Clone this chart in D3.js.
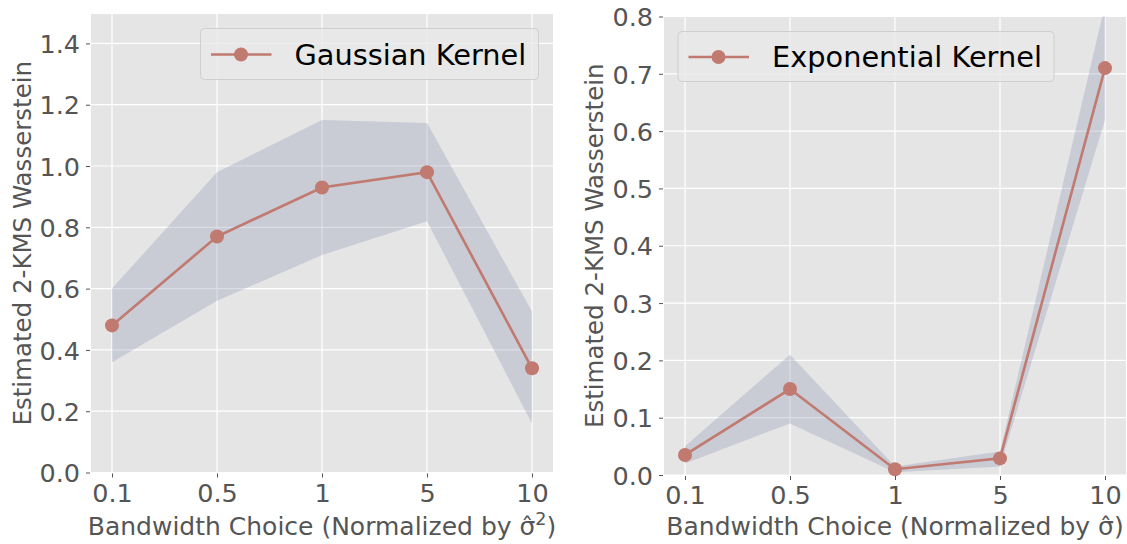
<!DOCTYPE html>
<html>
<head>
<meta charset="utf-8">
<script src="https://cdn.jsdelivr.net/npm/d3@7"></script>
<style>
  html, body { margin: 0; padding: 0; background: #ffffff; }
  svg { display: block; font-family: "DejaVu Sans", sans-serif; }
</style>
</head>
<body>
<svg id="chart" width="1127" height="544"></svg>
<script>
// ---- data ----
const categories = ["0.1", "0.5", "1", "5", "10"];

const gaussianMean  = [0.48, 0.77, 0.93, 0.98, 0.34];
const gaussianLower = [0.36, 0.56, 0.71, 0.82, 0.16];
const gaussianUpper = [0.60, 0.98, 1.15, 1.14, 0.525];

const expMean  = [0.035, 0.15, 0.010, 0.029, 0.71];
const expLower = [0.020, 0.09, 0.005, 0.015, 0.62];
const expUpper = [0.050, 0.21, 0.015, 0.041, 0.82];

const gaussianYTicks = [0.0, 0.2, 0.4, 0.6, 0.8, 1.0, 1.2, 1.4];
const expYTicks = [0.0, 0.1, 0.2, 0.3, 0.4, 0.5, 0.6, 0.7, 0.8];

const yLabel = "Estimated 2-KMS Wasserstein";

// ---- drawing ----
const svg = d3.select("#chart");
const BG = "#E5E5E5";
const LINE = "#C07A70";
const BAND = "#888EB0";
const TXT = "#555555";

function panel(opts) {
  const { left, right, top, bottom, ymax, yTicks, mean, lower, upper,
          legendText, legendBox, xLabelSup, clipId } = opts;

  const x = d3.scaleLinear().domain([-0.2, categories.length - 1 + 0.2]).range([left, right]);
  const y = d3.scaleLinear().domain([0, ymax]).range([bottom, top]);

  const g = svg.append("g");

  g.append("rect").attr("x", left).attr("y", top)
    .attr("width", right - left).attr("height", bottom - top).attr("fill", BG);

  // grid
  g.append("g").selectAll("line.h").data(yTicks).join("line")
    .attr("x1", left).attr("x2", right)
    .attr("y1", d => y(d)).attr("y2", d => y(d))
    .attr("stroke", "#ffffff").attr("stroke-width", 1.2);
  g.append("g").selectAll("line.v").data(categories.map((c, i) => i)).join("line")
    .attr("y1", top).attr("y2", bottom)
    .attr("x1", d => x(d)).attr("x2", d => x(d))
    .attr("stroke", "#ffffff").attr("stroke-width", 1.2);

  svg.append("clipPath").attr("id", clipId).append("rect")
    .attr("x", left).attr("y", top).attr("width", right - left).attr("height", bottom - top);

  const plot = g.append("g").attr("clip-path", `url(#${clipId})`);

  const idx = categories.map((c, i) => i);
  const area = d3.area().x(i => x(i)).y0(i => y(lower[i])).y1(i => y(upper[i]));
  plot.append("path").datum(idx).attr("d", area)
    .attr("fill", BAND).attr("fill-opacity", 0.3).attr("stroke", "none");

  const line = d3.line().x(i => x(i)).y(i => y(mean[i]));
  plot.append("path").datum(idx).attr("d", line)
    .attr("fill", "none").attr("stroke", LINE).attr("stroke-width", 2.6);

  g.append("g").selectAll("circle").data(idx).join("circle")
    .attr("cx", i => x(i)).attr("cy", i => y(mean[i])).attr("r", 7)
    .attr("fill", LINE);

  // axes
  const yAxis = d3.axisLeft(y).tickValues(yTicks).tickFormat(d3.format(".1f"))
    .tickSize(4).tickPadding(6);
  const ya = g.append("g").attr("transform", `translate(${left - 1},0)`).call(yAxis);
  ya.select(".domain").remove();
  ya.selectAll(".tick line").attr("stroke", TXT).attr("stroke-width", 1);
  ya.selectAll(".tick text").attr("fill", TXT)
    .style("font-size", "25.5px").style("font-family", "DejaVu Sans").attr("dy", "0.36em");

  const xAxis = d3.axisBottom(x).tickValues(idx).tickFormat(i => categories[i])
    .tickSize(4).tickPadding(6);
  const xa = g.append("g").attr("transform", `translate(0,${bottom + 1})`).call(xAxis);
  xa.select(".domain").remove();
  xa.selectAll(".tick line").attr("stroke", TXT).attr("stroke-width", 1);
  xa.selectAll(".tick text").attr("fill", TXT)
    .style("font-size", "25.5px").style("font-family", "DejaVu Sans").attr("dy", "0.72em");

  // x label
  const xl = g.append("text")
    .attr("x", (left + right) / 2).attr("y", 535)
    .attr("text-anchor", "middle").attr("fill", TXT)
    .style("font-size", "25px");
  xl.append("tspan").text("Bandwidth Choice (Normalized by \u03C3\u0302");
  if (xLabelSup) {
    xl.append("tspan").attr("dy", -10).style("font-size", "17.5px").text(xLabelSup);
    xl.append("tspan").attr("dy", 10).text(")");
  } else {
    xl.append("tspan").text(")");
  }

  // y label
  g.append("text")
    .attr("transform", `translate(${opts.yLabelX},${(top + bottom) / 2}) rotate(-90)`)
    .attr("text-anchor", "middle").attr("fill", TXT)
    .style("font-size", "24.5px")
    .text(yLabel);

  // legend
  const lb = legendBox;
  g.append("rect").attr("x", lb.x).attr("y", lb.y).attr("width", lb.w).attr("height", lb.h)
    .attr("rx", 4).attr("ry", 4)
    .attr("fill", "#E8E8E8").attr("fill-opacity", 0.8)
    .attr("stroke", "#CFCFCF").attr("stroke-width", 1);
  const ly = lb.y + lb.h / 2 + 0.5;
  g.append("line").attr("x1", lb.x + 10.5).attr("x2", lb.x + 71)
    .attr("y1", ly).attr("y2", ly).attr("stroke", LINE).attr("stroke-width", 2.6);
  g.append("circle").attr("cx", lb.x + 40.5).attr("cy", ly).attr("r", 7).attr("fill", LINE);
  g.append("text").attr("x", lb.x + 94).attr("y", ly + 10)
    .attr("fill", "#000000").style("font-size", "28.8px").text(legendText);
}

panel({
  left: 91, right: 553, top: 14, bottom: 472.5, ymax: 1.496,
  yTicks: gaussianYTicks, mean: gaussianMean, lower: gaussianLower, upper: gaussianUpper,
  legendText: "Gaussian Kernel",
  legendBox: { x: 200.5, y: 28.5, w: 338, h: 51 },
  xLabelSup: "2", clipId: "clipA", yLabelX: 31
});

panel({
  left: 664, right: 1126, top: 16.5, bottom: 475, ymax: 0.8,
  yTicks: expYTicks, mean: expMean, lower: expLower, upper: expUpper,
  legendText: "Exponential Kernel",
  legendBox: { x: 678, y: 31.5, w: 376, h: 50 },
  xLabelSup: null, clipId: "clipB", yLabelX: 603
});
</script>
</body>
</html>
